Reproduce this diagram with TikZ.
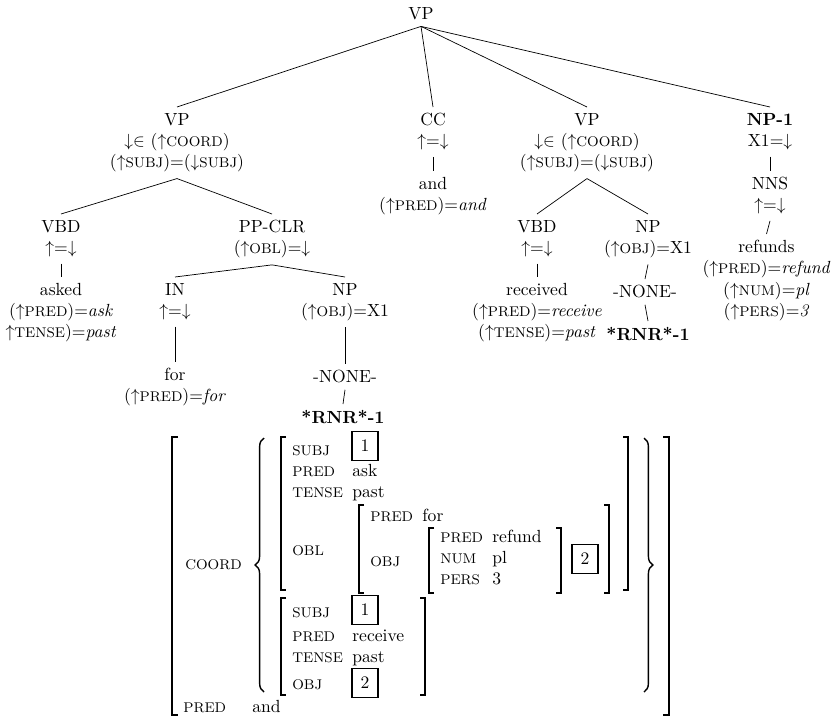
\documentclass[tikz,border=0pt]{standalone}
\usepackage{tikz}
\usetikzlibrary{decorations.pathreplacing}
\newcommand{\uarr}{\ensuremath{\uparrow}}
\newcommand{\darr}{\ensuremath{\downarrow}}
\newcommand{\feat}[1]{{\footnotesize #1}}

\begin{document}
\begin{tikzpicture}[
    cat/.style={align=center, anchor=north, inner sep=3.5pt},
    lbl/.style={anchor=base west, inner sep=0pt},
    tagbox/.style={draw, line width=1.1pt, minimum width=15pt, minimum height=16.5pt, inner sep=0pt},
    brk/.style={line width=0.8pt},
]
\useasboundingbox (0, 0) rectangle (16.66, 14.42);

% Root
\node[cat] (vpTop) at (8.42, 14.40) {VP};

% First level
\node[cat] (vpL) at (3.54, 12.28) {VP\\ \darr$\in$ (\uarr\feat{COORD})\\ (\uarr\feat{SUBJ})=(\darr\feat{SUBJ})};
\node[cat] (cc) at (8.66, 12.28) {CC\\ \uarr=\darr};
\node[cat] (vpR) at (11.74, 12.28) {VP\\ \darr$\in$ (\uarr\feat{COORD})\\ (\uarr\feat{SUBJ})=(\darr\feat{SUBJ})};
\node[cat] (np1) at (15.40, 12.28) {\textbf{NP-1}\\ X1=\darr};

\node[cat] (andW) at (8.66, 11.00) {and\\ (\uarr\feat{PRED})=\textit{and}};
\node[cat] (nns) at (15.40, 11.00) {NNS\\ \uarr=\darr};
\node[cat] (refunds) at (15.33, 9.74) {refunds\\ (\uarr\feat{PRED})=\textit{refund}\\ (\uarr\feat{NUM})=\textit{pl}\\ (\uarr\feat{PERS})=\textit{3}};

% Left conjunct
\node[cat] (vbdL) at (1.22, 10.14) {VBD\\ \uarr=\darr};
\node[cat] (asked) at (1.22, 8.88) {asked\\ (\uarr\feat{PRED})=\textit{ask}\\ \uarr\feat{TENSE})=\textit{past}};
\node[cat] (ppclr) at (5.44, 10.14) {PP-CLR\\ (\uarr\feat{OBL})=\darr};
\node[cat] (inN) at (3.50, 8.88) {IN\\ \uarr=\darr};
\node[cat] (forW) at (3.50, 7.18) {for\\ (\uarr\feat{PRED})=\textit{for}};
\node[cat] (npL) at (6.90, 8.88) {NP\\ (\uarr\feat{OBJ})=X1};
\node[cat] (noneL) at (6.90, 7.14) {-NONE-};
\node[cat] (rnrL) at (6.86, 6.34) {\textbf{*RNR*-1}};

% Right conjunct
\node[cat] (vbdR) at (10.74, 10.14) {VBD\\ \uarr=\darr};
\node[cat] (received) at (10.74, 8.88) {received\\ (\uarr\feat{PRED})=\textit{receive}\\ (\uarr\feat{TENSE})=\textit{past}};
\node[cat] (npR) at (12.96, 10.14) {NP\\ (\uarr\feat{OBJ})=X1};
\node[cat] (noneR) at (12.90, 8.84) {-NONE-};
\node[cat] (rnrR) at (12.96, 8.00) {\textbf{*RNR*-1}};

% Branches
\draw (vpTop.south) -- (vpL.north);
\draw (vpTop.south) -- (cc.north);
\draw (vpTop.south) -- (vpR.north);
\draw (vpTop.south) -- (np1.north);
\draw (cc.south) -- (andW.north);
\draw (np1.south) -- (nns.north);
\draw (nns.south) -- (refunds.north);
\draw (vpL.south) -- (vbdL.north);
\draw (vpL.south) -- (ppclr.north);
\draw (vbdL.south) -- (asked.north);
\draw (ppclr.south) -- (inN.north);
\draw (ppclr.south) -- (npL.north);
\draw (inN.south) -- (forW.north);
\draw (npL.south) -- (noneL.north);
\draw (noneL.south) -- (rnrL.north);
\draw (vpR.south) -- (vbdR.north);
\draw (vpR.south) -- (npR.north);
\draw (vbdR.south) -- (received.north);
\draw (npR.south) -- (noneR.north);
\draw (noneR.south) -- (rnrR.north);

% F-structure: outer brackets
\draw[brk] (3.56, 5.68) -- (3.44, 5.68) -- (3.44, 0.12) -- (3.56, 0.12);
\draw[brk] (13.26, 5.68) -- (13.38, 5.68) -- (13.38, 0.12) -- (13.26, 0.12);
\node[lbl] (coord) at (3.70, 3.04) {\feat{COORD}};
\node[lbl] (predC) at (3.66, 0.18) {\feat{PRED}};
\node[lbl] (andC) at (5.04, 0.18) {and};

% Set braces
\draw[brk, decorate, decoration={brace, amplitude=5pt}] (5.28, 0.58) -- (5.28, 5.66);
\draw[brk, decorate, decoration={brace, amplitude=5pt}] (12.88, 5.66) -- (12.88, 0.58);

% First conjunct
\draw[brk] (5.72, 5.68) -- (5.62, 5.68) -- (5.62, 2.62) -- (5.72, 2.62);
\draw[brk] (12.46, 5.68) -- (12.56, 5.68) -- (12.56, 2.62) -- (12.46, 2.62);
\node[lbl] (subjA) at (5.84, 5.32) {\feat{SUBJ}};
\node[tagbox] (tagA) at (7.30, 5.50) {1};
\node[lbl] (predA) at (5.84, 4.90) {\feat{PRED}};
\node[lbl] (askA) at (7.04, 4.90) {ask};
\node[lbl] (tenseA) at (5.84, 4.48) {\feat{TENSE}};
\node[lbl] (pastA) at (7.04, 4.48) {past};
\node[lbl] (oblA) at (5.84, 3.32) {\feat{OBL}};

% OBL value
\draw[brk] (7.28, 4.32) -- (7.18, 4.32) -- (7.18, 2.56) -- (7.28, 2.56);
\draw[brk] (12.08, 4.32) -- (12.18, 4.32) -- (12.18, 2.56) -- (12.08, 2.56);
\node[lbl] (predO) at (7.40, 4.00) {\feat{PRED}};
\node[lbl] (forO) at (8.44, 4.00) {for};
\node[lbl] (objO) at (7.40, 3.10) {\feat{OBJ}};

% OBJ value
\draw[brk] (8.68, 3.86) -- (8.58, 3.86) -- (8.58, 2.56) -- (8.68, 2.56);
\draw[brk] (11.12, 3.86) -- (11.22, 3.86) -- (11.22, 2.56) -- (11.12, 2.56);
\node[lbl] (predN) at (8.80, 3.58) {\feat{PRED}};
\node[lbl] (refundN) at (9.84, 3.58) {refund};
\node[lbl] (numN) at (8.80, 3.16) {\feat{NUM}};
\node[lbl] (plN) at (9.84, 3.16) {pl};
\node[lbl] (persN) at (8.80, 2.74) {\feat{PERS}};
\node[lbl] (threeN) at (9.84, 2.74) {3};
\node[tagbox] (tagN) at (11.70, 3.24) {2};

% Second conjunct
\draw[brk] (5.72, 2.46) -- (5.62, 2.46) -- (5.62, 0.52) -- (5.72, 0.52);
\draw[brk] (8.40, 2.46) -- (8.50, 2.46) -- (8.50, 0.52) -- (8.40, 0.52);
\node[lbl] (subjB) at (5.84, 2.08) {\feat{SUBJ}};
\node[tagbox] (tagB) at (7.30, 2.22) {1};
\node[lbl] (predB) at (5.84, 1.60) {\feat{PRED}};
\node[lbl] (receiveB) at (7.04, 1.60) {receive};
\node[lbl] (tenseB) at (5.84, 1.18) {\feat{TENSE}};
\node[lbl] (pastB) at (7.04, 1.18) {past};
\node[lbl] (objB) at (5.84, 0.64) {\feat{OBJ}};
\node[tagbox] (tagC) at (7.30, 0.76) {2};

\end{tikzpicture}
\end{document}
